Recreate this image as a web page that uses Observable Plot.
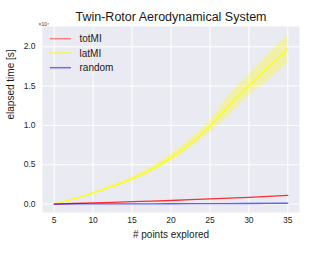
<!DOCTYPE html>
<html>
<head>
<meta charset="utf-8">
<script src="https://cdn.jsdelivr.net/npm/d3@7"></script>
<script src="https://cdn.jsdelivr.net/npm/@observablehq/plot@0.6"></script>
<style>
  html, body { margin: 0; padding: 0; background: #fff; }
  #chart svg { display: block; font-family: "Liberation Sans", Arial, sans-serif; }
</style>
</head>
<body>
<div id="chart"></div>
<script>
const xs        = [5, 7.5, 10, 12.5, 15, 17.5, 20, 22.5, 25, 27.5, 30, 32.5, 35];
const latMean   = [0, 0.065, 0.14, 0.225, 0.32, 0.44, 0.59, 0.77, 0.99, 1.26, 1.51, 1.74, 1.97];
const latLow    = [0, 0.058, 0.127, 0.206, 0.292, 0.405, 0.54, 0.71, 0.91, 1.13, 1.38, 1.57, 1.79];
const latHigh   = [0, 0.072, 0.153, 0.244, 0.348, 0.475, 0.64, 0.83, 1.07, 1.39, 1.64, 1.91, 2.15];
const totMean   = [0, 0.007, 0.015, 0.022, 0.03, 0.037, 0.045, 0.055, 0.065, 0.075, 0.085, 0.097, 0.11];
const rndMean   = [0, 0.001, 0.001, 0.002, 0.002, 0.003, 0.004, 0.005, 0.005, 0.006, 0.007, 0.008, 0.01];
const rndHigh   = [0, 0.002, 0.002, 0.003, 0.004, 0.005, 0.006, 0.007, 0.008, 0.009, 0.010, 0.012, 0.014];
const xTicks    = [5, 10, 15, 20, 25, 30, 35];
const yTicks    = [0, 0.5, 1.0, 1.5, 2.0];
const seriesNames   = ["totMI", "latMI", "random"];
const seriesColors  = ["red", "yellow", "blue"];
const legendOpacity = [0.45, 0.9, 0.55];

const rows = xs.map((x, i) => ({
  x, lat: latMean[i], latLo: latLow[i], latHi: latHigh[i],
  tot: totMean[i], rnd: rndMean[i], rndHi: rndHigh[i]
}));

const font = "Liberation Sans, Arial, sans-serif";
const W = 332, H = 259;
const mL = 42, mR = 33, mT = 26, mB = 47;

const legendMarks = seriesNames.flatMap((name, i) => [
  Plot.text([name], {frameAnchor: "top-left", dx: 37, dy: 12.7 + i * 14.5, fontSize: 10,
    fill: "#1a1a1a", textAnchor: "start", lineAnchor: "middle"})
]);

const chart = Plot.plot({
  width: W, height: H,
  marginLeft: mL, marginRight: mR, marginTop: mT, marginBottom: mB,
  style: {fontFamily: font, background: "#fff", overflow: "visible"},
  x: {domain: [3.5, 36.5], ticks: xTicks},
  y: {domain: [-0.1075, 2.2575], ticks: yTicks},
  marks: [
    Plot.frame({fill: "#EAEAF2", stroke: null}),
    Plot.ruleX(xTicks, {stroke: "#fff", strokeWidth: 1}),
    Plot.ruleY(yTicks, {stroke: "#fff", strokeWidth: 1}),
    Plot.areaY(rows, {x: "x", y1: "latLo", y2: "latHi", fill: "yellow", fillOpacity: 0.3, curve: "monotone-x"}),
    Plot.areaY(rows, {x: "x", y1: "rnd", y2: "rndHi", fill: "blue", fillOpacity: 0.2}),
    Plot.line(rows, {x: "x", y: "lat", stroke: "yellow", strokeWidth: 1.3, strokeOpacity: 0.9, curve: "monotone-x"}),
    Plot.line(rows, {x: "x", y: "tot", stroke: "red", strokeWidth: 1.3, strokeOpacity: 0.8}),
    Plot.line(rows, {x: "x", y: "rnd", stroke: "blue", strokeWidth: 1.3, strokeOpacity: 0.6}),
    Plot.axisX({ticks: xTicks, tickSize: 0, tickPadding: 4, fontSize: 8.5, fill: "#262626", label: null}),
    Plot.axisY({ticks: yTicks, tickSize: 0, tickPadding: 7, fontSize: 8.5, fill: "#262626", label: null, tickFormat: d => d.toFixed(1)}),
    Plot.text(["Twin-Rotor Aerodynamical System"], {frameAnchor: "top", dy: -14, fontSize: 12.5, fill: "#1a1a1a"}),
    Plot.text(["# points explored"], {frameAnchor: "bottom", dy: 25, fontSize: 10, fill: "#1a1a1a"}),
    Plot.text(["elapsed time [s]"], {frameAnchor: "left", dx: -32, rotate: -90, fontSize: 10, fill: "#1a1a1a"}),
    Plot.text(["×10⁴"], {frameAnchor: "top-left", dx: -4, dy: -4, fontSize: 5, fill: "#333", textAnchor: "start"}),
    ...legendMarks
  ]
});

// legend line samples
const svg = d3.select(chart);
seriesNames.forEach((name, i) => {
  const y = mT + 12.7 + i * 14.5;
  svg.append("line").attr("x1", mL + 8).attr("x2", mL + 29).attr("y1", y).attr("y2", y)
    .attr("stroke", seriesColors[i]).attr("stroke-opacity", legendOpacity[i]).attr("stroke-width", 1.5);
});
document.getElementById("chart").append(chart);
</script>
</body>
</html>
